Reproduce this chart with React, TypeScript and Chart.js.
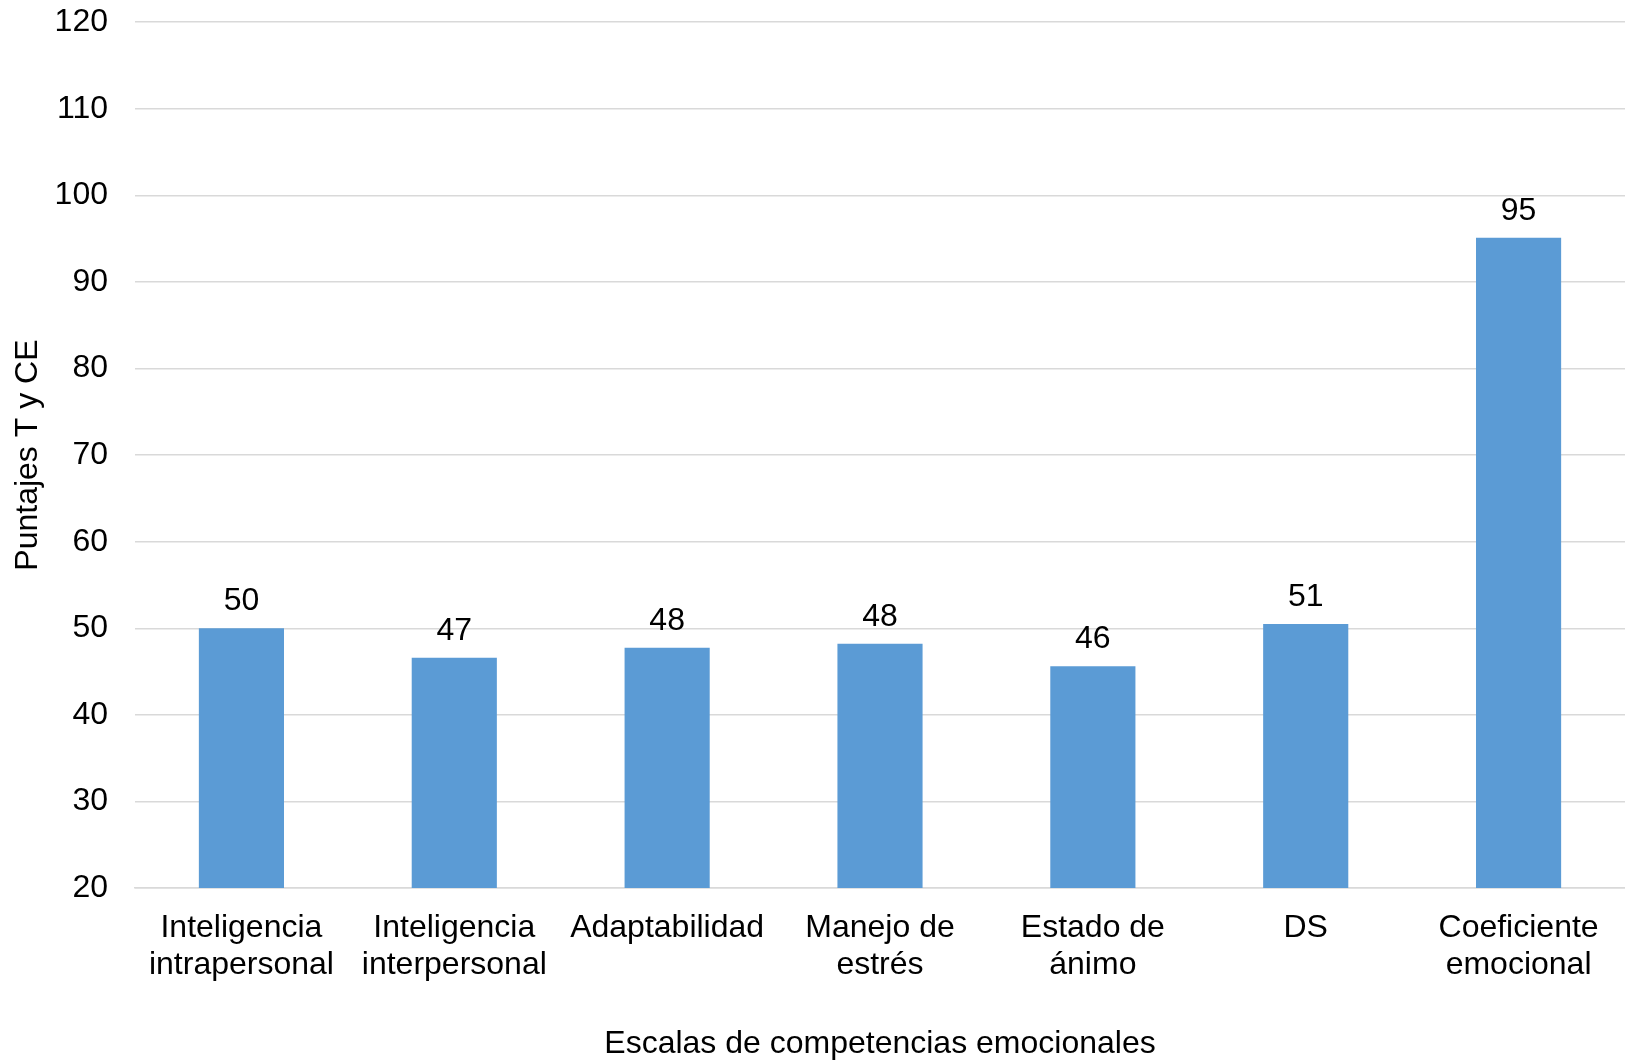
import React, { useEffect, useRef } from "react";
import { Chart, registerables } from "chart.js";

Chart.register(...registerables);

const categories: string[][] = [
  ["Inteligencia", "intrapersonal"],
  ["Inteligencia", "interpersonal"],
  ["Adaptabilidad"],
  ["Manejo de", "estrés"],
  ["Estado de", "ánimo"],
  ["DS"],
  ["Coeficiente", "emocional"],
];
const scores: number[] = [50.0, 46.6, 47.75, 48.2, 45.6, 50.5, 95.1];
const yMin = 20;
const yMax = 120;
const yStep = 10;
const xTitle = "Escalas de competencias emocionales";
const yTitle = "Puntajes T y CE";

const FONT = "'Liberation Sans', Arial, sans-serif";

const valueLabels = {
  id: "valueLabels",
  afterDatasetsDraw(chart: any) {
    const ctx = chart.ctx;
    const meta = chart.getDatasetMeta(0);
    ctx.save();
    ctx.font = `32px ${FONT}`;
    ctx.fillStyle = "#000";
    ctx.textAlign = "center";
    ctx.textBaseline = "alphabetic";
    meta.data.forEach((bar: any, i: number) => {
      const v = chart.data.datasets[0].data[i];
      ctx.fillText(String(Math.round(v)), bar.x, bar.y - 18);
    });
    ctx.restore();
  },
};

export default function App() {
  const ref = useRef<HTMLCanvasElement | null>(null);
  useEffect(() => {
    if (!ref.current) return;
    const chart = new Chart(ref.current, {
      type: "bar",
      data: {
        labels: categories,
        datasets: [
          {
            data: scores,
            backgroundColor: "#5B9BD5",
            borderWidth: 0,
            barPercentage: 0.4,
            categoryPercentage: 1,
          },
        ],
      },
      options: {
        animation: false,
        responsive: false,
        maintainAspectRatio: false,
        layout: { padding: { left: 5, top: 0, right: 0, bottom: 3 } },
        plugins: {
          legend: { display: false },
          tooltip: { enabled: false },
        },
        scales: {
          x: {
            grid: { display: false, drawTicks: false },
            border: { display: true, color: "#d9d9d9", width: 1.5 },
            ticks: {
              color: "#000",
              font: { family: FONT, size: 32, lineHeight: 1.14 },
              padding: 22,
              maxRotation: 0,
              autoSkip: false,
            },
            title: {
              display: true,
              text: xTitle,
              color: "#000",
              font: { family: FONT, size: 32, lineHeight: 1.0 },
              padding: { top: 20, bottom: 0 },
            },
            afterFit: (scale: any) => {
              scale.height = 172;
            },
          },
          y: {
            min: yMin,
            max: yMax,
            grid: {
              color: "#d9d9d9",
              lineWidth: 1.5,
              drawTicks: true,
              tickLength: 24,
              tickColor: "rgba(0,0,0,0)",
            },
            border: { display: false },
            ticks: {
              stepSize: yStep,
              color: "#000",
              font: { family: FONT, size: 32 },
              padding: 3,
            },
            title: {
              display: true,
              text: yTitle,
              color: "#000",
              font: { family: FONT, size: 32, lineHeight: 1.2 },
              padding: { top: 4, bottom: 4 },
            },
            afterFit: (scale: any) => {
              scale.width = 130;
            },
          },
        },
      },
      plugins: [valueLabels],
    });
    return () => chart.destroy();
  }, []);
  return (
    <div style={{ position: "fixed", left: 0, top: 0, width: 1625, height: 1063, background: "#fff" }}>
      <canvas ref={ref} width={1625} height={1063} style={{ width: 1625, height: 1063, display: "block" }} />
    </div>
  );
}
